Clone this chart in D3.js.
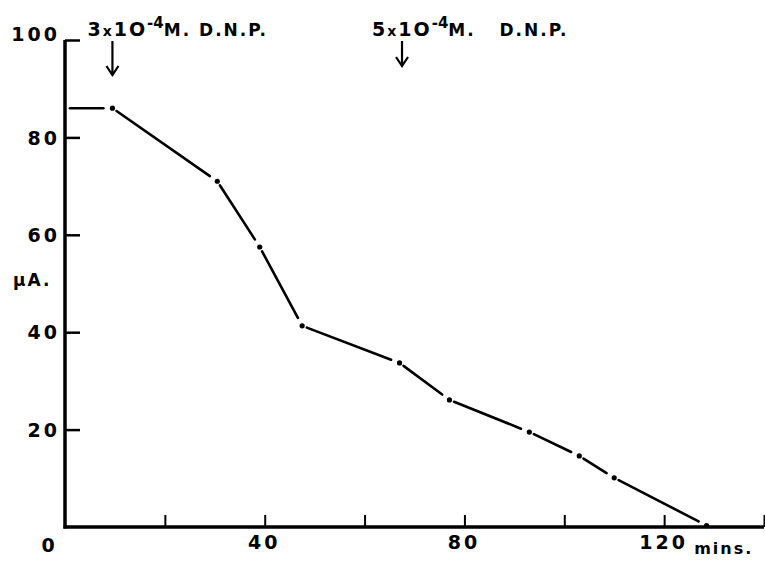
<!DOCTYPE html>
<html>
<head>
<meta charset="utf-8">
<script src="https://cdn.jsdelivr.net/npm/d3@7"></script>
<style>
  body { margin: 0; background: #fff; }
  svg text { font-family: "DejaVu Sans", sans-serif; fill: #000; }
</style>
</head>
<body>
<svg id="chart"></svg>
<script>
// readings (minutes, microamps)
const times = [0, 9.5, 30.5, 39, 47.5, 67, 77, 93, 103, 110, 128.5];
const current = [86, 86, 71, 57.5, 41.3, 33.7, 26.1, 19.5, 14.6, 10.1, 0.3];
const yTicks = [20, 40, 60, 80, 100];
const xTicks = [20, 40, 60, 80, 100, 120, 140];
const xLabels = [40, 80, 120];
const events = [
  { t: 9.5, base: "3", exp: "-4", gapText: " " },
  { t: 67.5, base: "5", exp: "-4", gapText: "   " }
];

const width = 765, height = 561;
const svg = d3.select("#chart").attr("width", width).attr("height", height);

const x = d3.scaleLinear().domain([0, 140]).range([65, 764]);
const y = d3.scaleLinear().domain([0, 100]).range([527, 40]);

// y axis
const yAxis = svg.append("g").attr("transform", `translate(${x(0)},0)`)
  .call(d3.axisLeft(y).tickValues(yTicks).tickSizeInner(-15).tickSizeOuter(0).tickPadding(5));
yAxis.select(".domain").remove();
yAxis.selectAll(".tick line").attr("stroke", "#000").attr("stroke-width", 2.5);
yAxis.selectAll(".tick text").style("font-size", "19px").style("font-weight", "bold")
  .attr("letter-spacing", "3").attr("dy", (d) => d === 100 ? "0" : "0.35em");

// x axis
const xAxis = svg.append("g").attr("transform", `translate(0,${y(0)})`)
  .call(d3.axisBottom(x).tickValues(xTicks).tickSizeInner(-12).tickSizeOuter(0).tickPadding(9)
    .tickFormat((d) => xLabels.includes(d) ? d : ""));
xAxis.select(".domain").remove();
xAxis.selectAll(".tick line").attr("stroke", "#000").attr("stroke-width", 2);
xAxis.selectAll(".tick text").style("font-size", "19px").style("font-weight", "bold")
  .attr("letter-spacing", "3").attr("dx", -1);

// axis lines drawn thick
svg.append("line").attr("x1", x(0)).attr("x2", x(0)).attr("y1", y(100)).attr("y2", y(0) + 1.5)
  .attr("stroke", "#000").attr("stroke-width", 3.5);
svg.append("line").attr("x1", x(0) - 1.5).attr("x2", x(140)).attr("y1", y(0)).attr("y2", y(0))
  .attr("stroke", "#000").attr("stroke-width", 3.5);

svg.append("text").attr("x", x(0) - 17).attr("y", y(0) + 25).attr("text-anchor", "middle")
  .style("font-size", "19px").style("font-weight", "bold").text("0");
svg.append("text").attr("x", x(120) + 30).attr("y", y(0) + 27)
  .style("font-size", "16px").style("font-weight", "bold").attr("letter-spacing", "2").text("mins.");
svg.append("text").attr("x", 13).attr("y", 286)
  .style("font-size", "17px").style("font-weight", "bold").attr("letter-spacing", "2").text("µA.");

// trace: segments with small gaps at each reading
const pts = times.map((t, i) => [x(t), y(current[i])]);
const gap = 9;
const segs = d3.pairs(pts).map(([a, b]) => {
  const dx = b[0] - a[0], dy = b[1] - a[1], len = Math.hypot(dx, dy);
  const ux = dx / len, uy = dy / len;
  return [a[0] + ux * (gap - 4), a[1] + uy * (gap - 4), b[0] - ux * gap, b[1] - uy * gap];
});
svg.append("g").selectAll("line").data(segs).join("line")
  .attr("x1", (d) => d[0]).attr("y1", (d) => d[1]).attr("x2", (d) => d[2]).attr("y2", (d) => d[3])
  .attr("stroke", "#000").attr("stroke-width", 2.6).attr("stroke-linecap", "round");
svg.append("g").selectAll("circle").data(pts.slice(1)).join("circle")
  .attr("cx", (d) => d[0]).attr("cy", (d) => d[1]).attr("r", 2.6).attr("fill", "#000");

// additions of D.N.P.
events.forEach((e, i) => {
  const ax = x(e.t);
  const top = 41, bot = i === 0 ? 75 : 66;
  svg.append("path").attr("d", `M${ax},${top}L${ax},${bot}M${ax - 6},${bot - 9}L${ax},${bot}L${ax + 6},${bot - 9}`)
    .attr("fill", "none").attr("stroke", "#000").attr("stroke-width", 2.2);
  const t = svg.append("text").attr("x", ax - 25 - (i === 0 ? 0 : 5)).attr("y", 36)
    .style("font-size", "19px").style("font-weight", "bold").attr("letter-spacing", "2");
  t.append("tspan").text(e.base);
  t.append("tspan").style("font-size", "14px").text("x");
  t.append("tspan").text("1O");
  t.append("tspan").attr("dy", -8).style("font-size", "15px").attr("letter-spacing", "0").text(e.exp);
  t.append("tspan").attr("dy", 8).style("font-size", "17px")
    .style("white-space", "pre").text("M." + e.gapText + "D.N.P.");
});
</script>
</body>
</html>
